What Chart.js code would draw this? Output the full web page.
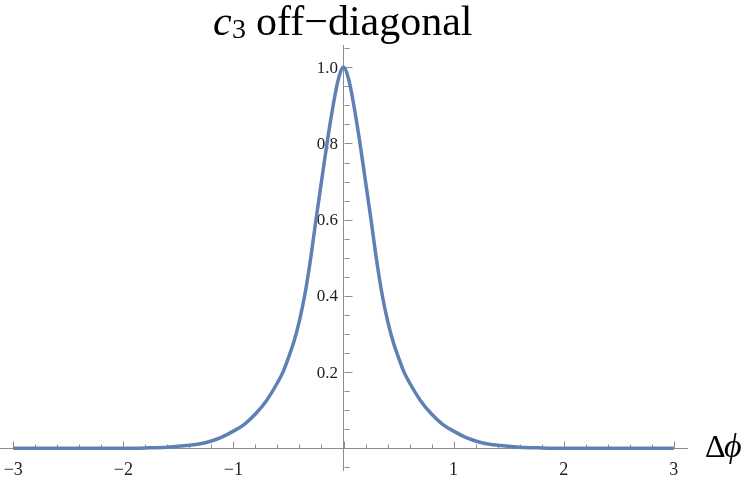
<!DOCTYPE html>
<html>
<head>
<meta charset="utf-8">
<script src="https://cdn.jsdelivr.net/npm/chart.js@4.4.1/dist/chart.umd.min.js"></script>
<style>
  html, body { margin: 0; padding: 0; background: #fff; }
</style>
</head>
<body>
<canvas id="offDiag" width="750" height="482"></canvas>
<script>
// values
const deltaPhi = [-3, -2, -1.8, -1.6, -1.4, -1.3, -1.2, -1.1, -1.0, -0.9, -0.8, -0.7, -0.6, -0.55,
    -0.5, -0.45, -0.4, -0.35, -0.3, -0.25, -0.2, -0.15, -0.1, -0.05, 0,
    0.05, 0.1, 0.15, 0.2, 0.25, 0.3, 0.35, 0.4, 0.45, 0.5, 0.55, 0.6, 0.7, 0.8, 0.9,
    1.0, 1.1, 1.2, 1.3, 1.4, 1.6, 1.8, 2, 3];
const c3Values = [0, 0, 0.001, 0.003, 0.008, 0.012, 0.019, 0.03, 0.045, 0.063, 0.09, 0.125, 0.172, 0.2,
    0.238, 0.28, 0.335, 0.405, 0.495, 0.6, 0.7, 0.8, 0.89, 0.965, 1.0,
    0.965, 0.89, 0.8, 0.7, 0.6, 0.495, 0.405, 0.335, 0.28, 0.238, 0.2, 0.172, 0.125, 0.09, 0.063,
    0.045, 0.03, 0.019, 0.012, 0.008, 0.003, 0.001, 0, 0];
const xTickValues = [-3, -2, -1, 1, 2, 3];
const yTickValues = [0.2, 0.4, 0.6, 0.8, 1.0];

const axisGray = '#8c8c8c';
const serif = '"Liberation Serif", "DejaVu Serif", serif';

// mathematica style ticks + labels at the origin axes, title and axis label
const decorations = {
    id: 'decorations',
    beforeDatasetsDraw(chart) {
        const {ctx, scales: {x, y}} = chart;
        const x0 = Math.round(x.getPixelForValue(0)) + 0.5;
        const y0 = Math.round(y.getPixelForValue(0)) + 0.5;
        ctx.save();
        ctx.strokeStyle = axisGray;
        ctx.lineWidth = 1;
        ctx.beginPath();
        for (let i = -15; i <= 15; i++) {
            const px = Math.round(x.getPixelForValue(i / 5)) + 0.5;
            const len = i % 5 === 0 ? 7 : 4;
            ctx.moveTo(px, y0);
            ctx.lineTo(px, y0 - len);
        }
        for (let j = -1; j <= 21; j++) {
            const py = Math.round(y.getPixelForValue(j / 20)) + 0.5;
            const len = j % 4 === 0 ? 8 : 5;
            ctx.moveTo(x0, py);
            ctx.lineTo(x0 + len, py);
        }
        ctx.stroke();

        // tick labels
        ctx.fillStyle = '#222';
        ctx.font = '18px ' + serif;
        ctx.textAlign = 'center';
        ctx.textBaseline = 'alphabetic';
        xTickValues.forEach(v => {
            ctx.fillText(String(v).replace('-', '\u2212'), x.getPixelForValue(v), y0 + 26.5);
        });
        ctx.font = '17px ' + serif;
        ctx.textAlign = 'right';
        ctx.textBaseline = 'middle';
        yTickValues.forEach(v => {
            ctx.fillText(v.toFixed(1), x0 - 6.5, y.getPixelForValue(v) + 1);
        });

        ctx.fillStyle = '#000';
        ctx.textBaseline = 'alphabetic';
        ctx.textAlign = 'left';
        ctx.font = 'italic 42px ' + serif;
        ctx.fillText('c', 213, 35);
        ctx.font = '28px ' + serif;
        ctx.fillText('3', 232, 38);
        ctx.font = '42px ' + serif;
        ctx.fillText('off\u2212diagonal', 256, 35);

        ctx.font = '32px ' + serif;
        ctx.fillText('\u0394', 705, 457);
        ctx.font = 'italic 34px ' + serif;
        ctx.fillText('\u03D5', 724, 457);
        ctx.restore();
    }
};

const ctx = document.getElementById('offDiag').getContext('2d');

const chart = new Chart(ctx, {
    type: 'line',
    data: {
        datasets: [{
            data: deltaPhi.map((v, i) => ({x: v, y: c3Values[i]})),
            borderColor: '#5E81B5',
            borderWidth: 3.5,
            pointRadius: 0,
            cubicInterpolationMode: 'monotone',
            fill: false
        }]
    },
    options: {
        responsive: false,
        animation: false,
        layout: {padding: {left: 0, right: 63, top: 45, bottom: 12}},
        plugins: {legend: {display: false}, tooltip: {enabled: false}},
        scales: {
            x: {
                type: 'linear',
                min: -3.12,
                max: 3.12,
                position: {y: 0},
                grid: {display: false, drawTicks: false},
                border: {color: axisGray, width: 1},
                afterBuildTicks: axis => { axis.ticks = xTickValues.map(v => ({value: v})); },
                ticks: {display: false}
            },
            y: {
                type: 'linear',
                min: -0.057,
                max: 1.0585,
                position: {x: 0},
                grid: {display: false, drawTicks: false},
                border: {color: axisGray, width: 1},
                afterBuildTicks: axis => { axis.ticks = yTickValues.map(v => ({value: v})); },
                ticks: {display: false}
            }
        }
    },
    plugins: [decorations]
});
</script>
</body>
</html>
